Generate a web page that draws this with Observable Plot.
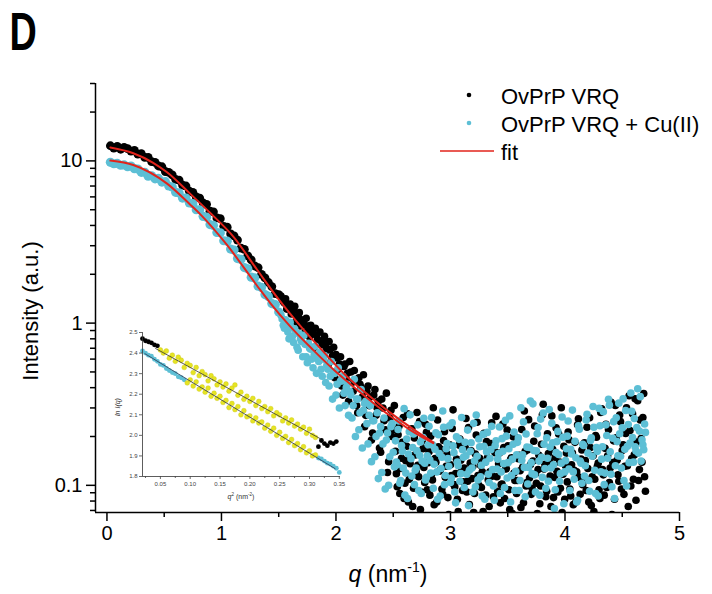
<!DOCTYPE html>
<html><head><meta charset="utf-8">
<script src="https://cdn.jsdelivr.net/npm/d3@7"></script>
<script src="https://cdn.jsdelivr.net/npm/@observablehq/plot@0.6"></script>
<style>
body{margin:0;background:#fff;}
#wrap{position:relative;width:712px;height:594px;overflow:hidden;font-family:"Liberation Sans",Arial,sans-serif;}
</style></head><body><div id="wrap"></div>
<script>
// ---------- DATA ----------
const seriesNames = ["OvPrP VRQ", "OvPrP VRQ + Cu(II)", "fit"];

// low-q segment (q = 0.03 … 1.50, step 0.03)
const vrqLow = [12.4,12.0,12.3,11.8,12.1,11.9,11.5,11.6,11.0,11.1,10.5,10.5,9.9,9.8,9.3,9.2,8.6,8.5,8.2,7.7,7.6,7.1,7.0,6.5,6.4,6.0,5.9,5.5,5.4,4.9,4.85,4.45,4.4,3.95,3.9,3.55,3.45,3.25,2.9,2.85,2.6,2.45,2.25,2.2,2.0,1.9,1.78,1.68,1.52,1.5];
const cuLow  = [9.8,9.6,9.65,9.4,9.45,9.2,9.3,8.95,8.9,8.5,8.5,8.05,8.1,7.75,7.8,7.4,7.45,7.0,6.9,6.4,6.35,5.9,5.9,5.5,5.45,5.0,5.0,4.55,4.5,4.05,4.0,3.62,3.6,3.22,3.2,2.86,2.82,2.5,2.47,2.2,2.16,1.92,1.9,1.69,1.66,1.5,1.46,1.32,1.3,1.17];
// mid segment A (q = 1.52 … 2.50, step 0.02)
const vrqMid = [1.47,1.36,1.41,1.26,1.31,1.19,1.27,1.09,1.16,1.05,0.99,1.07,0.91,0.97,0.86,0.93,0.79,0.88,0.74,0.83,0.68,0.77,0.59,0.71,0.64,0.52,0.62,0.36,0.56,0.49,0.58,0.43,0.51,0.31,0.46,0.40,0.48,0.27,0.41,0.35,0.21,0.39,0.30,0.17,0.34,0.25,0.37,0.14,0.29,0.22];
const cuMid  = [1.12,0.97,1.05,0.88,1.01,0.83,0.92,0.71,0.86,0.77,0.84,0.62,0.75,0.69,0.53,0.72,0.61,0.66,0.47,0.63,0.55,0.41,0.58,0.50,0.36,0.53,0.44,0.47,0.31,0.42,0.38,0.26,0.45,0.34,0.22,0.39,0.29,0.33,0.18,0.31,0.25,0.15,0.28,0.21,0.12,0.26,0.19,0.10,0.23,0.16];
// mid segment B (q = 1.53 … 2.51, step 0.02)
const vrqMid2 = [1.40,1.33,1.22,1.29,1.14,1.21,1.02,1.11,0.96,1.03,0.88,0.96,0.82,0.90,0.71,0.84,0.77,0.64,0.79,0.72,0.55,0.69,0.63,0.46,0.61,0.56,0.41,0.54,0.45,0.33,0.50,0.38,0.44,0.28,0.42,0.35,0.23,0.38,0.31,0.19,0.36,0.27,0.33,0.16,0.30,0.22,0.12,0.26,0.20,0.31];
const cuMid2  = [1.06,0.93,0.99,0.80,0.94,0.76,0.87,0.68,0.80,0.62,0.74,0.57,0.70,0.60,0.64,0.49,0.58,0.52,0.60,0.43,0.52,0.47,0.34,0.49,0.42,0.30,0.44,0.37,0.40,0.27,0.36,0.31,0.20,0.34,0.28,0.17,0.32,0.24,0.27,0.14,0.25,0.20,0.11,0.23,0.18,0.095,0.21,0.15,0.24,0.13];
// high-q segment A (q = 2.52 …, step 0.015)
const vrqHigh = [0.162,0.098,0.231,0.127,0.184,0.083,0.142,0.276,0.109,0.151,
 0.074,0.196,0.121,0.133,0.247,0.091,0.168,0.104,0.212,0.138,
 0.087,0.117,0.301,0.146,0.079,0.173,0.124,0.095,0.189,0.112,
 0.156,0.066,0.134,0.224,0.101,0.118,0.082,0.177,0.143,0.093,
 0.128,0.258,0.106,0.076,0.163,0.131,0.089,0.204,0.115,0.147,
 0.097,0.069,0.139,0.186,0.108,0.121,0.243,0.085,0.159,0.113,
 0.136,0.078,0.102,0.171,0.126,0.219,0.094,0.144,0.067,0.119,
 0.198,0.107,0.153,0.073,0.129,0.287,0.099,0.166,0.111,0.088,
 0.141,0.232,0.103,0.125,0.077,0.179,0.316,0.135,0.092,0.157,
 0.114,0.268,0.084,0.149,0.122,0.207,0.096,0.068,0.174,0.132,
 0.105,0.191,0.086,0.158,0.124,0.079,0.236,0.112,0.145,0.101,
 0.183,0.093,0.127,0.261,0.075,0.152,0.109,0.198,0.137,0.083,
 0.296,0.116,0.169,0.097,0.221,0.128,0.066,0.188,0.311,0.143,
 0.106,0.247,0.164,0.088,0.209,0.132,0.357,0.099,0.276,0.154,
 0.081,0.332,0.125,0.194,0.262,0.113];
const cuHigh = [0.188,0.134,0.249,0.107,0.162,0.297,0.119,0.083,0.214,0.146,
 0.171,0.101,0.128,0.236,0.153,0.089,0.197,0.137,0.112,0.178,
 0.143,0.262,0.096,0.167,0.121,0.205,0.086,0.149,0.228,0.115,
 0.181,0.131,0.104,0.243,0.159,0.078,0.139,0.192,0.118,0.166,
 0.097,0.152,0.219,0.124,0.183,0.091,0.141,0.271,0.108,0.173,
 0.133,0.206,0.082,0.161,0.117,0.147,0.231,0.099,0.176,0.126,
 0.157,0.089,0.194,0.136,0.252,0.111,0.168,0.079,0.145,0.213,
 0.122,0.184,0.093,0.301,0.154,0.129,0.207,0.102,0.171,0.138,
 0.318,0.116,0.163,0.227,0.087,0.149,0.279,0.127,0.196,0.106,
 0.172,0.241,0.134,0.094,0.186,0.155,0.118,0.264,0.077,0.142,
 0.201,0.126,0.167,0.291,0.109,0.148,0.081,0.222,0.137,0.179,
 0.114,0.253,0.158,0.092,0.196,0.306,0.124,0.171,0.086,0.233,
 0.145,0.284,0.119,0.203,0.339,0.161,0.098,0.247,0.132,0.186,
 0.321,0.151,0.226,0.107,0.289,0.174,0.138,0.371,0.197,0.258,
 0.163,0.394,0.216,0.141,0.178,0.239];
// high-q segment B (q = 2.5275 …, step 0.015)
const vrqHigh2 = [0.118,0.205,0.089,0.147,0.262,0.103,0.174,0.079,0.136,0.223,
 0.096,0.154,0.281,0.113,0.071,0.187,0.129,0.238,0.094,0.161,
 0.201,0.108,0.076,0.139,0.253,0.122,0.167,0.088,0.214,0.131,
 0.084,0.178,0.115,0.292,0.098,0.145,0.069,0.193,0.126,0.105,
 0.172,0.091,0.227,0.137,0.110,0.068,0.156,0.245,0.100,0.133,
 0.121,0.209,0.087,0.148,0.074,0.181,0.114,0.163,0.266,0.092,
 0.158,0.101,0.239,0.083,0.127,0.175,0.071,0.148,0.199,0.107,
 0.089,0.146,0.123,0.221,0.078,0.162,0.104,0.254,0.134,0.096,
 0.187,0.118,0.067,0.153,0.099,0.272,0.126,0.085,0.208,0.141,
 0.074,0.167,0.112,0.226,0.091,0.139,0.301,0.117,0.082,0.158,
 0.213,0.095,0.134,0.076,0.184,0.121,0.257,0.088,0.165,0.107,
 0.142,0.228,0.079,0.171,0.113,0.069,0.203,0.131,0.094,0.281,
 0.125,0.087,0.238,0.152,0.104,0.325,0.138,0.082,0.196,0.116,
 0.271,0.095,0.178,0.131,0.301,0.074,0.218,0.146,0.109,0.342,
 0.185,0.107,0.253,0.139,0.368,0.092];
const cuHigh2 = [0.139,0.221,0.103,0.176,0.128,0.087,0.193,0.156,0.272,0.114,
 0.207,0.124,0.163,0.093,0.185,0.141,0.259,0.108,0.152,0.231,
 0.119,0.178,0.135,0.211,0.082,0.157,0.127,0.287,0.101,0.168,
 0.146,0.233,0.111,0.175,0.091,0.199,0.132,0.106,0.262,0.149,
 0.184,0.117,0.075,0.162,0.128,0.241,0.098,0.151,0.193,0.113,
 0.086,0.174,0.139,0.212,0.104,0.166,0.125,0.081,0.188,0.145,
 0.229,0.121,0.162,0.097,0.201,0.138,0.268,0.115,0.179,0.093,
 0.154,0.196,0.107,0.143,0.246,0.085,0.172,0.129,0.331,0.118,
 0.164,0.091,0.208,0.141,0.256,0.112,0.179,0.096,0.147,0.293,
 0.128,0.183,0.072,0.159,0.215,0.106,0.137,0.198,0.121,0.168,
 0.249,0.093,0.156,0.121,0.187,0.079,0.233,0.141,0.103,0.176,
 0.132,0.274,0.107,0.189,0.151,0.228,0.089,0.162,0.298,0.121,
 0.173,0.101,0.236,0.147,0.312,0.117,0.195,0.083,0.261,0.152,
 0.208,0.128,0.341,0.167,0.099,0.237,0.182,0.286,0.139,0.173,
 0.227,0.158,0.352,0.191,0.166,0.212];

// fit curves
const fitVrqQ = [0.03,0.23,0.4,0.525,0.73,0.9,1.107,1.31,1.5,1.7,1.9,2.1,2.3,2.5,2.7,2.85];
const fitVrqI = [12.1,11.15,9.77,8.51,6.24,4.79,3.39,2.14,1.40,0.94,0.655,0.465,0.352,0.272,0.216,0.184];
const fitCuQ  = [0.03,0.23,0.525,0.728,0.816,1.05,1.311,1.43,1.6,1.8,2.0,2.2,2.45,2.65,2.85];
const fitCuI  = [10.05,9.44,7.24,5.37,4.68,3.02,1.70,1.32,0.955,0.684,0.501,0.380,0.275,0.219,0.182];

// tick labels
const yMajor = [0.1, 1, 10];
const yMinor = [0.07,0.08,0.09,0.2,0.3,0.4,0.5,0.6,0.7,0.8,0.9,2,3,4,5,6,7,8,9,20,30];
const xMajor = [0,1,2,3,4,5];
const xMinor = [0.5,1.5,2.5,3.5,4.5];

// inset: ln I(q) vs q^2 (q^2 = 0.020 … 0.350, step 0.005)
const insetVrqLn = [2.47,2.46,2.455,2.45,2.44,2.435,
 2.415,2.40,2.41,2.375,2.39,2.36,2.38,2.365,2.33,2.35,
 2.34,2.305,2.33,2.29,2.31,2.295,2.265,2.29,2.275,2.245,
 2.26,2.235,2.25,2.215,2.23,2.245,2.195,2.21,2.175,2.19,
 2.165,2.18,2.145,2.165,2.13,2.14,2.115,2.13,2.095,2.11,
 2.10,2.07,2.085,2.06,2.075,2.045,2.055,2.03,2.04,2.01,
 2.03,2.0,1.99,
 1.945,1.975,1.96,1.95,1.965,1.96,1.97,null];
const insetCuLn = [2.41,2.40,2.39,2.385,2.37,2.36,2.345,2.34,2.325,2.315,2.305,2.30,2.285,2.28,2.27,
 2.255,
 2.27,2.24,2.26,2.225,2.235,2.21,2.23,2.19,2.205,2.18,
 2.19,2.16,2.17,2.135,2.155,2.125,2.14,2.10,2.12,2.09,
 2.095,2.07,2.085,2.06,2.065,2.035,2.05,2.02,2.035,2.0,
 2.015,1.985,1.995,1.965,1.98,1.95,1.96,1.93,1.945,1.915,
 1.925,1.90,1.905,
 1.89,1.885,1.875,1.865,1.86,1.85,1.84,1.82];
const vrqFitRange = [0.05, 0.31];
const cuFitRange = [0.095, 0.31];
const insetFitVrqQ2 = [0.042, 0.318], insetFitVrqLn = [2.422, 1.984];
const insetFitCuQ2  = [0.024, 0.343], insetFitCuLn  = [2.397, 1.838];
const insetYTicks = [1.8,1.9,2.0,2.1,2.2,2.3,2.4,2.5];
const insetXTicks = [0.05,0.10,0.15,0.20,0.25,0.30,0.35];
const insetXMinor = [0.025,0.075,0.125,0.175,0.225,0.275,0.325];

// ---------- BUILD ----------
const BLACK = "#000", CYAN = "#5dbfd5", RED = "#e2231b", YELLOW = "#e6e424";
const FONT = "Liberation Sans, Arial, sans-serif";

const seg = (start, step, arr) => arr.map((I, i) => ({q: +(start + step * i).toFixed(4), I}));
const vrqLowD = seg(0.03, 0.03, vrqLow), cuLowD = seg(0.03, 0.03, cuLow);
const vrqRest = [...seg(1.52, 0.02, vrqMid), ...seg(1.53, 0.02, vrqMid2), ...seg(2.52, 0.015, vrqHigh), ...seg(2.5275, 0.015, vrqHigh2)];
const cuRest = [...seg(1.52, 0.02, cuMid), ...seg(1.53, 0.02, cuMid2), ...seg(2.52, 0.015, cuHigh), ...seg(2.5275, 0.015, cuHigh2)];
const dFitVrq = fitVrqQ.map((q, i) => ({q, I: fitVrqI[i]}));
const dFitCu = fitCuQ.map((q, i) => ({q, I: fitCuI[i]}));

const main = Plot.plot({
  width: 712, height: 594,
  marginTop: 83, marginBottom: 82, marginLeft: 95, marginRight: 33,
  style: {fontFamily: FONT, background: "transparent"},
  x: {domain: [-0.1, 5]},
  y: {type: "log", domain: [0.068, 30]},
  marks: [
    Plot.dot(vrqLowD, {x: "q", y: "I", r: 4.4, fill: BLACK, clip: true}),
    Plot.dot(vrqRest, {x: "q", y: "I", r: 3.8, fill: BLACK, clip: true}),
    Plot.dot(cuLowD, {x: "q", y: "I", r: 4.6, fill: CYAN, clip: true}),
    Plot.dot(cuRest, {x: "q", y: "I", r: 3.8, fill: CYAN, clip: true}),
    Plot.line(dFitVrq, {x: "q", y: "I", stroke: RED, strokeWidth: 2, curve: "monotone-x"}),
    Plot.line(dFitCu, {x: "q", y: "I", stroke: RED, strokeWidth: 2, curve: "monotone-x"}),
    Plot.ruleX([-0.1], {stroke: BLACK, strokeWidth: 1.5}),
    Plot.ruleY([0.068], {stroke: BLACK, strokeWidth: 1.5}),
    Plot.axisY(yMajor, {tickSize: 9, tickPadding: 4, fontSize: 20, strokeWidth: 1.5, label: null, tickFormat: d => String(d)}),
    Plot.axisY(yMinor, {tickSize: 5, strokeWidth: 1.5, label: null, tickFormat: () => ""}),
    Plot.axisX(xMajor, {tickSize: 9, tickPadding: 4, fontSize: 20, strokeWidth: 1.5, label: null, tickFormat: d => String(d)}),
    Plot.axisX(xMinor, {tickSize: 5, strokeWidth: 1.5, label: null, tickFormat: () => ""})
  ]
});
main.style.position = "absolute"; main.style.left = "0px"; main.style.top = "0px";

// inset
const g2 = d3.range(insetVrqLn.length).map(i => +(0.02 + 0.005 * i).toFixed(3));
const inVrq = g2.map((x, i) => ({x, y: insetVrqLn[i], fit: x >= vrqFitRange[0] - 1e-9 && x <= vrqFitRange[1] + 1e-9})).filter(d => d.y != null);
const inCu = g2.map((x, i) => ({x, y: insetCuLn[i], fit: x >= cuFitRange[0] - 1e-9 && x <= cuFitRange[1] + 1e-9})).filter(d => d.y != null);
const inset = Plot.plot({
  width: 250, height: 186,
  marginTop: 12, marginBottom: 30, marginLeft: 42, marginRight: 10,
  style: {fontFamily: FONT, background: "transparent", overflow: "visible"},
  x: {domain: [0.02, 0.352]},
  y: {domain: [1.8, 2.5]},
  marks: [
    Plot.dot(inVrq.filter(d => !d.fit), {x: "x", y: "y", r: 2.4, fill: BLACK}),
    Plot.dot(inCu.filter(d => !d.fit), {x: "x", y: "y", r: 2.4, fill: CYAN}),
    Plot.dot(inVrq.filter(d => d.fit), {x: "x", y: "y", r: 2.4, fill: YELLOW, stroke: "#c9c515", strokeWidth: 0.4}),
    Plot.dot(inCu.filter(d => d.fit), {x: "x", y: "y", r: 2.4, fill: YELLOW, stroke: "#c9c515", strokeWidth: 0.4}),
    Plot.line(insetFitVrqQ2.map((x, i) => ({x, y: insetFitVrqLn[i]})), {x: "x", y: "y", stroke: "#333", strokeWidth: 0.8}),
    Plot.line(insetFitCuQ2.map((x, i) => ({x, y: insetFitCuLn[i]})), {x: "x", y: "y", stroke: "#2b3550", strokeWidth: 0.8}),
    Plot.ruleX([0.02], {stroke: "#333", strokeWidth: 0.8}),
    Plot.ruleY([1.8], {stroke: "#333", strokeWidth: 0.8}),
    Plot.axisY(insetYTicks, {tickSize: 3, tickPadding: 2, fontSize: 6, color: "#444", strokeWidth: 0.8, label: null, tickFormat: d3.format(".1f")}),
    Plot.axisX(insetXTicks, {tickSize: 3, tickPadding: 2, fontSize: 6, color: "#444", strokeWidth: 0.8, label: null, tickFormat: d3.format(".2f")}),
    Plot.axisX(insetXMinor, {tickSize: 2, color: "#444", strokeWidth: 0.8, label: null, tickFormat: () => ""})
  ]
});
inset.style.position = "absolute"; inset.style.left = "100px"; inset.style.top = "320px";

// overlay: panel letter, axis titles, legend
const ov = d3.create("svg").attr("width", 712).attr("height", 594)
  .style("position", "absolute").style("left", "0px").style("top", "0px")
  .style("font-family", FONT);
ov.append("text").attr("transform", "translate(9.5,50) scale(0.7,1)")
  .attr("font-size", 54).attr("font-weight", "bold").text("D");
ov.append("text").attr("transform", "translate(38,311) rotate(-90)")
  .attr("text-anchor", "middle").attr("font-size", 22).text("Intensity (a.u.)");
const xt = ov.append("text").attr("x", 388).attr("y", 582).attr("text-anchor", "middle").attr("font-size", 23);
xt.append("tspan").attr("font-style", "italic").text("q");
xt.append("tspan").text(" (nm");
xt.append("tspan").attr("font-size", 14).attr("dy", -10).text("-1");
xt.append("tspan").attr("dy", 10).text(")");
// inset titles
const iy = ov.append("text").attr("transform", "translate(120,407) rotate(-90)")
  .attr("text-anchor", "middle").attr("font-size", 7).attr("fill", "#333").attr("font-style", "italic");
iy.append("tspan").text("ln I(q)");
const ix = ov.append("text").attr("x", 241).attr("y", 499).attr("text-anchor", "middle").attr("font-size", 7).attr("fill", "#333");
ix.append("tspan").attr("font-style", "italic").text("q");
ix.append("tspan").attr("font-size", 4.5).attr("dy", -3).text("2");
ix.append("tspan").attr("dy", 3).text(" (nm");
ix.append("tspan").attr("font-size", 4.5).attr("dy", -3).text("-2");
ix.append("tspan").attr("dy", 3).text(")");
// legend
ov.append("circle").attr("cx", 469).attr("cy", 95).attr("r", 2.3).attr("fill", BLACK);
ov.append("text").attr("x", 501).attr("y", 104).attr("font-size", 22).text(seriesNames[0]);
ov.append("circle").attr("cx", 469).attr("cy", 123).attr("r", 2.3).attr("fill", CYAN);
ov.append("text").attr("x", 501).attr("y", 132).attr("font-size", 22).text(seriesNames[1]);
ov.append("line").attr("x1", 440).attr("x2", 494).attr("y1", 151).attr("y2", 151).attr("stroke", RED).attr("stroke-width", 1.6);
ov.append("text").attr("x", 501).attr("y", 160).attr("font-size", 22).text(seriesNames[2]);

const wrap = document.getElementById("wrap");
wrap.appendChild(main);
wrap.appendChild(inset);
wrap.appendChild(ov.node());
</script></body></html>
